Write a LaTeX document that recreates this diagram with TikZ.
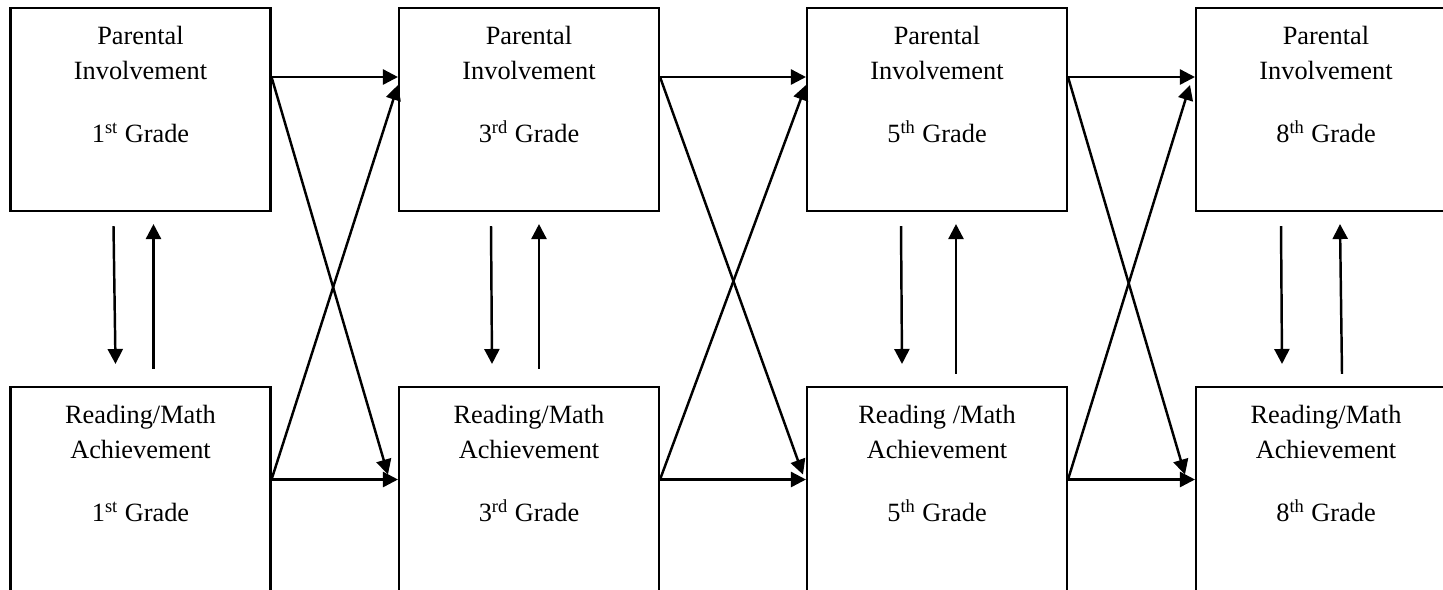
\documentclass[tikz,border=0pt]{standalone}
\usepackage{fontspec}
\setmainfont{Liberation Serif}
\usetikzlibrary{arrows.meta,positioning,calc}

\begin{document}
\begin{tikzpicture}[
    x=0.02cm, y=-0.02cm,
    >={Triangle[length=0.3cm,width=0.3cm]},
    box/.style={
        draw,
        line width=1.2pt,
        minimum width=5.2cm,
        minimum height=4.06cm,
        inner sep=0pt
    },
    boxtext/.style={
        align=center,
        inner sep=0pt,
        font=\fontsize{15}{20}\selectfont
    },
    link/.style={->, line width=1.4pt}
]
\clip (0,0) rectangle (1443,589);

% top row
\node[box] (p1) at (140.5,109.5) {};
\node[box] (p3) at (529,109.5) {};
\node[box] (p5) at (937,109.5) {};
\node[box] (p8) at (1326,109.5) {};

% bottom row
\node[box, minimum height=4.16cm] (a1) at (140.5,491) {};
\node[box, minimum height=4.16cm] (a3) at (529,491) {};
\node[box, minimum height=4.16cm] (a5) at (937,491) {};
\node[box, minimum height=4.16cm] (a8) at (1326,491) {};

% texts
\node[boxtext, below=0.38cm of p1.north] (p1t) {Parental\\Involvement\\[16pt]1\textsuperscript{st} Grade};
\node[boxtext, below=0.38cm of p3.north] (p3t) {Parental\\Involvement\\[16pt]3\textsuperscript{rd} Grade};
\node[boxtext, below=0.38cm of p5.north] (p5t) {Parental\\Involvement\\[16pt]5\textsuperscript{th} Grade};
\node[boxtext, below=0.38cm of p8.north] (p8t) {Parental\\Involvement\\[16pt]8\textsuperscript{th} Grade};
\node[boxtext, below=0.38cm of a1.north] (a1t) {Reading/Math\\Achievement\\[16pt]1\textsuperscript{st} Grade};
\node[boxtext, below=0.38cm of a3.north] (a3t) {Reading/Math\\Achievement\\[16pt]3\textsuperscript{rd} Grade};
\node[boxtext, below=0.38cm of a5.north] (a5t) {Reading /Math\\Achievement\\[16pt]5\textsuperscript{th} Grade};
\node[boxtext, below=0.38cm of a8.north] (a8t) {Reading/Math\\Achievement\\[16pt]8\textsuperscript{th} Grade};

% within a grade
\draw[link] ([xshift=-0.54cm,yshift=-0.28cm]p1.south) -- ([xshift=-0.50cm,yshift=0.44cm]a1.north);
\draw[link] ([xshift=0.26cm,yshift=0.34cm]a1.north) -- ([xshift=0.26cm,yshift=-0.24cm]p1.south);
\draw[link] ([xshift=-0.76cm,yshift=-0.28cm]p3.south) -- ([xshift=-0.74cm,yshift=0.44cm]a3.north);
\draw[link] ([xshift=0.20cm,yshift=0.34cm]a3.north) -- ([xshift=0.20cm,yshift=-0.24cm]p3.south);
\draw[link] ([xshift=-0.72cm,yshift=-0.28cm]p5.south) -- ([xshift=-0.70cm,yshift=0.44cm]a5.north);
\draw[link] ([xshift=0.38cm,yshift=0.24cm]a5.north) -- ([xshift=0.38cm,yshift=-0.24cm]p5.south);
\draw[link] ([xshift=-0.90cm,yshift=-0.28cm]p8.south) -- ([xshift=-0.88cm,yshift=0.44cm]a8.north);
\draw[link] ([xshift=0.32cm,yshift=0.24cm]a8.north) -- ([xshift=0.28cm,yshift=-0.24cm]p8.south);

% grade to grade
\draw[link] ([yshift=0.65cm]p1.east) -- ([yshift=0.65cm]p3.west);
\draw[link] ([yshift=0.65cm]p1.east) -- ([xshift=-0.2cm,yshift=0.33cm]a3.west);
\draw[link] ([yshift=0.23cm]a1.east) -- ([yshift=0.23cm]a3.west);
\draw[link] ([yshift=0.23cm]a1.east) -- ([yshift=0.49cm]p3.west);

\draw[link] ([yshift=0.65cm]p3.east) -- ([yshift=0.65cm]p5.west);
\draw[link] ([yshift=0.65cm]p3.east) -- ([xshift=-0.06cm,yshift=0.33cm]a5.west);
\draw[link] ([yshift=0.23cm]a3.east) -- ([yshift=0.23cm]a5.west);
\draw[link] ([yshift=0.23cm]a3.east) -- ([yshift=0.49cm]p5.west);

\draw[link] ([yshift=0.65cm]p5.east) -- ([yshift=0.65cm]p8.west);
\draw[link] ([yshift=0.65cm]p5.east) -- ([xshift=-0.2cm,yshift=0.33cm]a8.west);
\draw[link] ([yshift=0.23cm]a5.east) -- ([yshift=0.23cm]a8.west);
\draw[link] ([yshift=0.23cm]a5.east) -- ([xshift=-0.1cm,yshift=0.49cm]p8.west);

\end{tikzpicture}
\end{document}
